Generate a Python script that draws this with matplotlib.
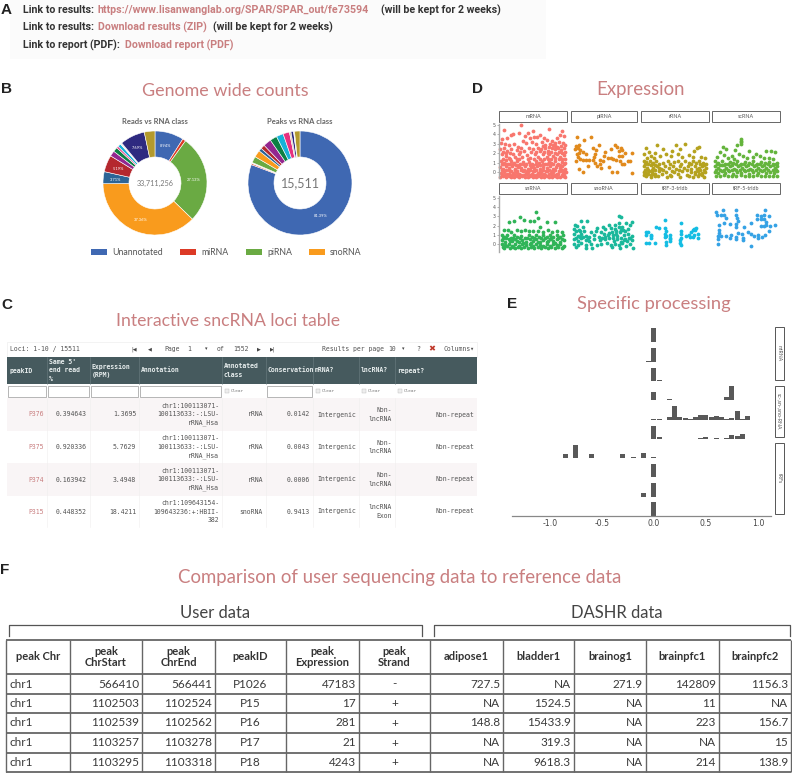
import matplotlib
matplotlib.use('Agg')
import matplotlib.pyplot as plt
from matplotlib.patches import Rectangle

W, H = 792, 773
PINK = '#c97f80'
TITLE_FONT = 'Lato'
MONO = 'DejaVu Sans Mono'

# Panel B donuts
READS_VALS = [8.94, 1.0, 27.13, 37.36, 3.71, 5.19, 1.7, 1.4, 0.6, 1.0, 0.5, 7.69, 3.3]
READS_COLS = ['#3f68b2', '#dc3a26', '#6aaa43', '#f99b1d', '#2c6496', '#b4282e', '#93278f', '#0c8043',
              '#e6317e', '#16b1d8', '#f4efe6', '#2e2a80', '#b39a2d']
READS_PCT = [('8.94%', 166, 146), ('27.13%', 194, 180), ('37.36%', 141, 220),
             ('3.71%', 116, 180), ('5.19%', 118, 169), ('7.69%', 137, 148)]
PEAKS_VALS = [81.39, 0.4, 0.3, 2.0, 2.2, 1.0, 1.3, 2.5, 2.2, 2.2, 2.0, 0.5, 0.8, 0.3, 1.7]
PEAKS_COLS = ['#3f68b2', '#dc3a26', '#f4efe6', '#6aaa43', '#f99b1d', '#2c6496', '#b4282e', '#93278f',
              '#0c8043', '#16b1d8', '#e6317e', '#d9c9a8', '#2e2a80', '#f4efe6', '#b39a2d']
LEGEND_NAMES = ['Unannotated', 'miRNA', 'piRNA', 'snoRNA']
LEGEND_COLS = ['#3f68b2', '#dc3a26', '#6aaa43', '#f99b1d']
LEGEND_X = [91, 180, 246, 309]

# Panel C table
C_COLS = [7, 47, 90, 139, 222, 266, 313, 359, 395, 477]
C_HEAD = ['peakID', "Same 5'\nend read\n%", 'Expression\n(RPM)', 'Annotation', 'Annotated\nclass',
          'Conservation', 'mRNA?', 'lncRNA?', 'repeat?']
C_ROWS = [
    ['P376', '0.394643', '1.3695', 'chr1:100113071-\n100113633:-:LSU-\nrRNA_Hsa', 'rRNA', '0.0142', 'Intergenic', 'Non-\nlncRNA', 'Non-repeat'],
    ['P375', '0.920336', '5.7629', 'chr1:100113071-\n100113633:-:LSU-\nrRNA_Hsa', 'rRNA', '0.0043', 'Intergenic', 'Non-\nlncRNA', 'Non-repeat'],
    ['P374', '0.163942', '3.4948', 'chr1:100113071-\n100113633:-:LSU-\nrRNA_Hsa', 'rRNA', '0.0006', 'Intergenic', 'Non-\nlncRNA', 'Non-repeat'],
    ['P315', '0.448352', '18.4211', 'chr1:109643154-\n109643236:+:HBII-\n382', 'snoRNA', '0.9413', 'Intergenic', 'lncRNA\nExon', 'Non-repeat'],
]
C_ROW_Y = [398, 431, 463, 496, 527]

# Panel D jitter points (x = percent of facet width, y = expression)
MRNA = [(8,4.5),(33,5.05),(74,4.6),(93,4.4),(50,4.35),(43,4.2),(38,3.8),(5,3.5),(12,3.6),(17,3.9),(20,4.0),(30,4.1),
        (46,3.6),(52,3.7),(56,3.7),(60,3.9),(70,3.4),(78,3.3),(85,3.6),(90,3.9),(95,3.8),(3,3.1),(9,3.0),(15,2.9),
        (22,3.0),(35,3.3),(40,3.1),(48,3.2),(55,3.0),(63,3.2),(67,2.9),(75,3.0),(82,3.1),(88,3.2),(94,3.1),(2,2.4),
        (7,2.5),(12,2.2),(18,2.4),(26,2.3),(32,2.5),(37,2.2),(44,2.6),(50,2.4),(58,2.6),(62,2.4),(68,2.5),(72,2.2),
        (78,2.6),(83,2.4),(87,2.6),(91,2.3),(96,2.5),(4,1.9),(10,1.7),(14,1.5),(20,1.9),(24,1.6),(29,1.9),(34,1.6),
        (41,1.8),(46,1.5),(53,1.9),(57,1.6),(64,1.9),(70,1.6),(74,1.9),(80,1.7),(85,1.9),(90,1.6),(95,1.8),(3,1.2),
        (8,1.0),(13,0.9),(17,1.2),(22,1.0),(27,1.2),(31,0.9),(36,1.1),(40,0.8),(44,1.1),(49,0.9),(54,1.2),(59,1.0),
        (63,1.2),(68,0.9),(73,1.1),(77,1.0),(82,1.2),(87,0.9),(92,1.1),(97,1.0),(2,0.5),(6,0.3),(11,0.6),(15,0.4),
        (19,0.6),(24,0.3),(28,0.5),(33,0.4),(38,0.6),(42,0.3),(47,0.5),(51,0.4),(56,0.6),(61,0.3),(65,0.5),(70,0.4),
        (75,0.6),(79,0.3),(84,0.5),(89,0.4),(93,0.6),(97,0.3),(3,-0.1),(7,0.0),(12,-0.2),(16,0.1),(21,-0.1),(25,0.0),
        (30,-0.2),(35,0.1),(39,-0.1),(43,0.0),(48,-0.2),(52,0.1),(57,-0.1),(62,0.0),(66,-0.2),(71,0.1),(76,-0.1),(80,0.0),
        (85,-0.2),(90,0.1),(94,-0.1),(98,0.0),(2,-0.5),(6,-0.45),(10,-0.55),(14,-0.45),(18,-0.5),(22,-0.55),(26,-0.45),(30,-0.5),
        (34,-0.45),(38,-0.55),(42,-0.5),(46,-0.45),(50,-0.55),(54,-0.5),(58,-0.45),(62,-0.55),(66,-0.5),(70,-0.45),(74,-0.55),(78,-0.5),
        (82,-0.45),(86,-0.55),(90,-0.5),(94,-0.45),(97,-0.5),(5,0.8),(25,0.7),(45,0.7),(65,0.8),(85,0.7),(10,2.0),(28,2.7),(66,3.6),(82,2.8),
        (4,-0.3),(9,-0.3),(14,-0.25),(19,-0.3),(24,-0.3),(28,-0.25),(33,-0.3),(37,-0.3),(41,-0.25),(45,-0.3),(50,-0.3),(55,-0.3),
        (60,-0.25),(64,-0.3),(68,-0.3),(73,-0.25),(78,-0.3),(83,-0.3),(87,-0.25),(92,-0.3),(96,-0.3),(5,0.2),(10,0.2),(14,0.25),
        (18,0.15),(23,0.2),(27,0.15),(32,0.2),(37,0.25),(41,0.15),(46,0.2),(50,0.15),(55,0.25),(60,0.15),(64,0.2),(69,0.15),
        (74,0.25),(78,0.15),(83,0.2),(88,0.15),(92,0.25),(96,0.15),(6,0.8),(11,0.8),(16,0.8),(20,0.8),(30,0.7),(35,0.8),(50,0.7),
        (55,0.8),(60,0.7),(70,0.8),(75,0.75),(80,0.8),(90,0.75),(95,0.8),(6,1.4),(11,1.3),(16,1.4),(26,1.4),(30,1.4),(43,1.4),(51,1.4),
        (60,1.4),(66,1.4),(72,1.4),(77,1.4),(83,1.5),(88,1.4),(93,1.4),(97,1.4),(88,2.1),(93,2.0),(97,2.1),(83,2.0),(77,2.1),(72,2.0),
        (66,2.1),(60,2.2),(55,2.1),(47,2.1),(31,2.1),(16,2.0),(6,2.1),(97,2.9),(91,2.8),(85,2.7),(79,2.9),(73,2.7),(65,2.8)]
PIRNA = [(9,3.7),(31,3.7),(20,3.4),(7,2.8),(12,2.9),(10,2.5),(6,2.4),(14,2.3),(12,2.0),(9,1.9),(18,2.1),(23,1.9),
         (34,2.6),(42,2.9),(38,2.3),(36,1.9),(35,1.6),(33,1.3),(10,1.6),(14,1.4),(18,1.3),(8,1.2),(22,1.3),(28,1.3),
         (37,1.0),(44,1.3),(48,1.2),(50,1.7),(56,1.5),(52,2.1),(61,2.4),(66,2.9),(70,2.7),(76,2.6),(72,2.2),(77,2.3),
         (64,1.4),(68,1.3),(72,1.7),(78,1.7),(74,1.2),(80,0.9),(90,1.2),(93,2.0),(82,2.0),(12,0.3),(18,0.0),(26,0.6),
         (40,0.6),(46,0.4),(58,0.5),(62,0.0),(70,0.0),(78,0.9),(93,-0.1),(86,1.2),(44,0.9),(60,1.5)]
RRNA = [(7,2.6),(24,2.9),(33,2.4),(46,2.2),(51,2.9),(64,3.0),(58,2.4),(82,2.5),(85,2.7),(78,2.2),(12,2.1),(20,2.0),
        (5,1.9),(14,1.7),(9,1.5),(19,1.5),(28,1.7),(37,1.9),(44,1.7),(55,1.9),(61,1.6),(70,1.8),(76,1.6),(88,1.6),(94,1.5),
        (4,1.2),(8,1.1),(13,1.2),(17,1.0),(22,1.2),(26,0.9),(33,1.0),(39,1.2),(43,0.9),(49,1.1),(54,1.2),(59,0.9),(65,1.2),
        (71,1.0),(76,1.2),(81,1.0),(86,1.2),(91,1.0),(95,0.9),(5,0.6),(9,0.4),(14,0.7),(18,0.4),(24,0.6),(30,0.3),(35,0.6),
        (41,0.4),(47,0.6),(52,0.3),(58,0.6),(63,0.4),(69,0.6),(74,0.3),(80,0.6),(85,0.4),(90,0.6),(95,0.4),(4,0.0),(8,-0.1),
        (12,0.1),(16,0.0),(21,-0.2),(26,0.1),(31,-0.2),(37,0.0),(43,-0.3),(49,0.0),(55,-0.2),(61,0.1),(67,-0.3),(73,0.0),(79,-0.2),
        (84,0.1),(89,-0.1),(94,0.0),(8,-0.4),(14,-0.5),(20,-0.45),(38,-0.5),(44,-0.45),(58,-0.5),(70,-0.45),(76,-0.5),(84,-0.45),(92,-0.5),
        (6,0.8),(11,0.9),(16,0.8),(20,0.7),(6,0.2),(11,0.2),(16,0.25),(21,0.2),(4,-0.3),(10,-0.25),(15,-0.3),(18,-0.2),(25,-0.4),
        (87,0.8),(92,0.7),(82,0.3),(87,0.2),(92,0.2),(90,-0.3),(85,-0.25),(80,0.0),(74,0.9),(68,0.2),(56,0.2),(45,0.1),(33,0.2),(27,0.4)]
SCRNA = [(43,3.5),(43,3.3),(43,3.15),(43,2.95),(37,2.9),(16,2.7),(21,2.4),(12,2.1),(34,2.3),(29,1.7),(39,1.9),(55,2.2),
         (64,1.9),(80,2.2),(87,2.2),(92,2.1),(18,1.8),(8,1.6),(24,1.5),(33,1.4),(46,1.7),(52,1.5),(60,1.6),(70,1.7),(76,1.5),
         (84,1.5),(90,1.4),(4,1.2),(9,1.0),(14,1.2),(19,0.9),(26,1.1),(31,1.0),(37,1.2),(43,0.9),(49,1.1),(55,1.0),(61,1.2),
         (66,0.9),(72,1.1),(78,1.0),(84,1.1),(90,0.9),(95,1.0),(4,0.6),(9,0.4),(15,0.7),(20,0.4),(26,0.6),(32,0.3),(38,0.6),
         (44,0.4),(50,0.6),(56,0.3),(62,0.6),(68,0.4),(74,0.6),(80,0.4),(86,0.6),(92,0.4),(96,0.6),(4,0.0),(9,-0.1),(14,0.1),
         (19,-0.1),(25,0.1),(31,-0.2),(37,0.0),(43,-0.1),(49,0.1),(55,-0.2),(61,0.0),(67,-0.1),(73,0.1),(79,-0.1),(85,0.0),(91,-0.1),
         (96,0.1),(6,-0.4),(12,-0.45),(18,-0.35),(24,-0.45),(30,-0.4),(36,-0.45),(42,-0.35),(48,-0.45),(54,-0.4),(60,-0.45),(66,-0.35),
         (72,-0.45),(78,-0.4),(84,-0.45),(90,-0.4),(95,-0.45),(7,0.8),(12,0.7),(17,0.7),(23,0.8),(29,0.7),(35,0.8),(41,0.7),(47,0.8),(53,0.7),
         (59,0.8),(65,0.7),(71,0.8),(77,0.7),(83,0.8),(89,0.7),(94,0.8),(6,0.2),(12,0.25),(17,0.2),(23,0.25),(29,0.2),(35,0.25),(41,0.2),
         (47,0.25),(53,0.2),(59,0.25),(65,0.2),(71,0.25),(77,0.2),(83,0.25),(89,0.2),(94,0.25)]
SNRNA = [(55,3.45),(14,2.4),(22,2.5),(31,2.9),(37,2.6),(46,2.5),(52,2.5),(58,2.8),(71,2.4),(82,2.4),(8,1.5),(13,1.5),(18,1.3),
         (26,1.5),(32,1.4),(38,1.5),(44,1.4),(50,1.4),(60,1.8),(58,1.4),(64,1.3),(72,1.5),(78,1.3),(86,1.4),(92,1.3),(4,1.0),(8,0.8),
         (12,1.0),(17,0.7),(22,1.0),(27,0.8),(33,0.9),(38,0.7),(44,1.0),(49,0.8),(54,1.0),(59,0.8),(65,1.0),(70,0.8),(75,1.0),(80,0.8),
         (85,1.0),(90,0.8),(94,1.0),(4,0.4),(9,0.2),(14,0.5),(19,0.3),(24,0.5),(29,0.2),(34,0.4),(39,0.2),(45,0.5),(50,0.3),(55,0.5),
         (60,0.2),(65,0.4),(70,0.2),(75,0.5),(80,0.3),(85,0.5),(90,0.2),(95,0.4),(4,0.0),(9,-0.1),(14,0.0),(19,-0.2),(24,0.0),(29,-0.2),
         (34,0.0),(39,-0.1),(45,0.0),(50,-0.2),(55,0.0),(60,-0.1),(65,-0.2),(70,0.0),(75,-0.2),(80,0.0),(85,-0.1),(90,0.0),(95,-0.2),
         (8,-0.4),(16,-0.45),(24,-0.4),(32,-0.45),(42,-0.4),(52,-0.45),(62,-0.4),(72,-0.45),(82,-0.4),(92,-0.45),(6,0.6),(11,0.6),(16,0.3),
         (21,0.7),(26,0.3),(31,0.6),(36,0.15),(41,0.6),(47,0.15),(52,0.6),(57,0.2),(62,0.6),(67,0.65),(72,0.3),(77,0.7),(82,0.15),(87,0.7),
         (92,0.55),(6,-0.3),(12,-0.25),(21,-0.3),(28,-0.35),(37,-0.3),(47,-0.35),(57,-0.3),(67,-0.35),(77,-0.35),(87,-0.3),(94,-0.35)]
SNORNA = [(15,2.5),(24,2.5),(72,3.0),(76,2.9),(83,2.3),(93,2.4),(6,2.1),(9,2.0),(18,1.8),(40,1.7),(48,1.8),(58,2.1),(66,2.1),
          (72,2.3),(78,1.9),(89,2.1),(5,1.6),(12,1.5),(20,1.4),(30,1.3),(38,1.4),(45,1.3),(52,1.6),(60,1.7),(66,1.6),(72,1.8),(79,1.5),
          (86,1.6),(5,1.1),(10,0.9),(15,1.1),(22,0.9),(28,0.8),(35,1.0),(42,0.8),(50,1.1),(56,1.0),(62,1.3),(68,1.1),(74,1.3),(80,1.0),
          (86,1.1),(92,0.9),(5,0.5),(10,0.3),(15,0.6),(22,0.4),(28,0.3),(35,0.5),(44,0.4),(52,0.5),(58,0.6),(64,0.7),(70,0.5),(76,0.7),
          (82,0.5),(88,0.6),(92,0.4),(5,0.0),(10,-0.1),(15,0.1),(22,-0.1),(32,-0.4),(40,-0.1),(46,0.0),(54,0.1),(60,-0.1),(66,0.0),
          (72,-0.1),(78,0.1),(84,-0.2),(90,0.0),(94,-0.4),(8,-0.3),(22,-0.4),(31,0.0),(62,-0.35),(74,-0.4),(8,0.7),(13,0.8),(18,0.8),
          (25,0.6),(8,1.4),(14,1.4),(65,0.3),(70,0.9),(75,0.2),(80,0.4),(85,0.3),(90,0.7),(68,1.4),(76,1.5),(82,1.4),(58,1.2),(64,1.0),(52,0.8),(47,0.7)]
TRF3 = [(36,2.6),(59,2.3),(22,1.8),(26,1.7),(36,1.7),(37,1.4),(36,1.1),(35,0.8),(7,1.3),(10,1.3),(7,1.0),(14,1.0),(15,0.9),(15,0.7),
        (37,0.9),(43,1.0),(42,0.7),(43,0.5),(42,0.3),(8,0.1),(12,0.1),(20,0.1),(37,0.2),(37,-0.1),(59,1.4),(59,1.1),(59,0.7),(58,0.4),
        (58,0.1),(59,-0.1),(66,0.9),(71,1.0),(74,1.3),(76,1.5),(78,1.6),(80,1.5),(81,1.7),(72,0.8),(77,0.8),(78,1.0),(84,1.1),(84,0.7)]
TRF5 = [(6,3.5),(16,3.7),(36,3.7),(78,3.7),(8,3.2),(13,3.1),(18,3.1),(20,2.8),(36,3.1),(37,2.8),(66,3.1),(72,3.0),(76,3.1),(84,3.0),
        (66,2.7),(72,2.7),(76,2.7),(80,2.4),(10,2.1),(17,2.3),(27,2.2),(36,2.2),(38,2.5),(36,1.8),(47,1.9),(58,2.3),(72,2.0),(76,2.0),
        (80,2.1),(86,2.0),(92,2.1),(10,1.5),(10,1.2),(9,0.9),(13,0.9),(20,0.9),(28,1.0),(27,0.7),(35,0.8),(38,1.2),(36,0.5),(44,1.1),
        (45,0.7),(45,0.4),(53,1.3),(58,1.1),(62,0.9),(68,1.0),(68,0.7),(74,0.8),(78,1.0),(84,1.4),(9,0.5),(9,0.0),(58,-0.2)]
D_FACETS = [('mRNA', MRNA, '#f8766d'), ('piRNA', PIRNA, '#e18a1c'), ('rRNA', RRNA, '#b5a21f'), ('scRNA', SCRNA, '#64b43c'),
            ('snRNA', SNRNA, '#2fb457'), ('snoRNA', SNORNA, '#1ab89b'), ('tRF-3-trldb', TRF3, '#14bde3'), ('tRF-5-trldb', TRF5, '#35a2e5')]
D_X = [(499, 567), (571, 637), (641, 709), (712, 780)]
D_Y_TICKS = [0, 1, 2, 3, 4, 5]

# Panel E histograms, one dict per facet row (bin centre: relative height)
E_ROWS = [
    {0: 1.0, .05: .03},
    {0: .95, -.05: .02},
    {0: .95, .05: .03},
    {0: .6, .15: .1, .2: .05, .25: .02, .3: .02, .4: .03, .6: .02, .65: .05, .7: .25, .75: 1.0, .8: .03},
    {0: .02, .05: .03, .15: .2, .2: 1.0, .25: .15, .3: .1, .35: .07, .4: .15, .45: .3, .5: .35, .55: .18, .6: .25,
     .65: .15, .7: .03, .75: .1, .8: .6, .85: .05, .9: .25},
    {0: .95, .05: .1, .2: .02, .25: .02, .45: .03, .5: .15, .55: .02, .6: .03, .65: .02, .7: .05, .75: .25, .8: .22, .85: .35},
    {-.85: .3, -.8: .02, -.75: .95, -.6: .28, -.55: .02, -.5: .02, -.45: .02, -.3: .28, -.2: .05, -.1: .35, -.05: .03, 0: .05, .05: .02},
    {0: .95},
    {-.1: .3, 0: .98},
    {0: .98},
]
E_TICKS = [-1.0, -0.5, 0.0, 0.5, 1.0]
E_STRIPS = [('miRNA', 327, 380), ('sc-,sn-,sno-RNA', 386, 437), ('tRFs', 443, 514)]

# Panel F table
F_COLS = [6, 70, 142, 215, 286, 359, 430, 503, 574, 646, 719, 791]
F_HEAD = ['peak Chr', 'peak\nChrStart', 'peak\nChrEnd', 'peakID', 'peak\nExpression', 'peak\nStrand',
          'adipose1', 'bladder1', 'brainog1', 'brainpfc1', 'brainpfc2']
F_ROWS = [
    ['chr1', '566410', '566441', 'P1026', '47183', '-', '727.5', 'NA', '271.9', '142809', '1156.3'],
    ['chr1', '1102503', '1102524', 'P15', '17', '+', 'NA', '1524.5', 'NA', '11', 'NA'],
    ['chr1', '1102539', '1102562', 'P16', '281', '+', '148.8', '15433.9', 'NA', '223', '156.7'],
    ['chr1', '1103257', '1103278', 'P17', '21', '+', 'NA', '319.3', 'NA', 'NA', '15'],
    ['chr1', '1103295', '1103318', 'P18', '4243', '+', 'NA', '9618.3', 'NA', '214', '138.9'],
]
F_ROW_Y = [640, 674, 694, 713, 733, 753, 772]
F_ALIGN = ['left', 'right', 'right', 'center', 'right', 'center', 'right', 'right', 'right', 'right', 'right']


def px_axes(fig, x0, y0, x1, y1):
    # axes placed by pixel box, y measured from the top
    return fig.add_axes([x0 / W, 1 - y1 / H, (x1 - x0) / W, (y1 - y0) / H])


def draw_donut(fig, cx, cy, r, vals, cols, inner):
    ax = px_axes(fig, cx - r, cy - r, cx + r, cy + r)
    ax.pie(vals, colors=cols, startangle=90, counterclock=False, radius=1,
           wedgeprops={'width': 1 - inner, 'edgecolor': 'white', 'linewidth': 0.4})
    ax.set_xlim(-1, 1)
    ax.set_ylim(-1, 1)
    ax.set_zorder(1)


fig = plt.figure(figsize=(W / 100, H / 100), dpi=100, facecolor='white')
bg = fig.add_axes([0, 0, 1, 1])
bg.set_xlim(0, W)
bg.set_ylim(H, 0)
bg.axis('off')

# panel letters
for letter, x, y in [('A', 1, 10), ('B', 1, 89), ('C', 1, 305), ('D', 472, 89), ('E', 507, 304), ('F', 0, 570)]:
    bg.text(x, y, letter, fontsize=11, fontweight='bold', family='Liberation Sans', color='#222222', va='center')

# section titles
for txt, x, y, size in [('Genome wide counts', 225, 91, 12.9), ('Expression', 640, 89, 13.4),
                        ('Interactive sncRNA loci table', 228, 321, 12.7), ('Specific processing', 654, 304, 13.2),
                        ('Comparison of user sequencing data to reference data', 400, 578, 13.4)]:
    bg.text(x, y, txt, fontsize=size, family=TITLE_FONT, color=PINK, ha='center', va='center')

# A: links
bg.add_patch(Rectangle((10, 0), 536, 59, fc='#fbfbfb', ec='none'))
link_parts = [(23, 10, 'Link to results:', '#333333'), (98, 10, 'https://www.lisanwanglab.org/SPAR/SPAR_out/fe73594', PINK),
              (381, 10, '(will be kept for 2 weeks)', '#333333'),
              (23, 27, 'Link to results:', '#333333'), (98, 27, 'Download results (ZIP)', PINK),
              (213, 27, '(will be kept for 2 weeks)', '#333333'),
              (23, 45, 'Link to report (PDF):', '#333333'), (125, 45, 'Download report (PDF)', PINK)]
for x, y, txt, col in link_parts:
    bg.text(x, y, txt, fontsize=7.7, family='Roboto', fontweight='bold', color=col, va='center')

# B: donuts
draw_donut(fig, 155, 183, 52, READS_VALS, READS_COLS, 0.5)
draw_donut(fig, 300, 183, 52, PEAKS_VALS, PEAKS_COLS, 0.5)
top = fig.add_axes([0, 0, 1, 1], facecolor='none')
top.set_xlim(0, W)
top.set_ylim(H, 0)
top.axis('off')
top.set_zorder(2)
for txt, x, y in READS_PCT:
    top.text(x, y, txt, fontsize=2.9, color='white', ha='center', va='center', family=TITLE_FONT)
top.text(321, 216, '81.39%', fontsize=2.9, color='white', ha='center', va='center', family=TITLE_FONT)
top.text(155, 183, '33,711,256', fontsize=5.2, color='#777777', ha='center', va='center', family=TITLE_FONT)
top.text(300, 183, '15,511', fontsize=9, color='#777777', ha='center', va='center', family=TITLE_FONT)
bg.text(155, 122, 'Reads vs RNA class', fontsize=5.5, fontweight='bold', color='#666666', ha='center', va='center', family=TITLE_FONT)
bg.text(300, 122, 'Peaks vs RNA class', fontsize=5.5, fontweight='bold', color='#666666', ha='center', va='center', family=TITLE_FONT)
for name, col, x in zip(LEGEND_NAMES, LEGEND_COLS, LEGEND_X):
    bg.add_patch(Rectangle((x, 249), 16, 6, fc=col, ec='none'))
    bg.text(x + 21, 252.5, name, fontsize=6.3, color='#555555', va='center', family=TITLE_FONT)

# C: toolbar
bg.add_patch(Rectangle((7, 342), 470, 15, fc='white', ec='#eeeeee', lw=0.5))
for x, txt in [(10, 'Loci: 1-10 / 15511'), (164, 'Page'), (187, '1'), (217, 'of'), (233, '1552'),
               (322, 'Results per page'), (388, '10'), (416, '?'), (443, 'Columns▾')]:
    bg.text(x, 349, txt, fontsize=4.7, family=MONO, color='#555555', va='center')
for x, txt in [(134, '|◀'), (150, '◀'), (206, '▾'), (259, '▶'), (273, '▶|'), (403, '▾')]:
    bg.text(x, 349, txt, fontsize=3.6, family='DejaVu Sans', color='#444444', va='center', ha='center')
bg.text(432, 349, '✖', fontsize=6, family='DejaVu Sans', color='#c0392b', va='center', ha='center')

# C: header and filter rows
bg.add_patch(Rectangle((7, 357), 470, 27, fc='#465a5e', ec='none'))
for i, head in enumerate(C_HEAD):
    bg.text(C_COLS[i] + 2, 370.5, head, fontsize=4.7, family=MONO, fontweight='bold', color='#e8eeee',
            va='center', linespacing=1.45, clip_on=True)
    if i:
        bg.plot([C_COLS[i]] * 2, [357, 384], color='#6d7f83', lw=0.4)
    if i in (0, 1, 2, 3, 5):
        bg.add_patch(Rectangle((C_COLS[i] + 1, 386), C_COLS[i + 1] - C_COLS[i] - 2, 10.5, fc='white', ec='#999999', lw=0.5))
    else:
        bg.add_patch(Rectangle((C_COLS[i] + 3, 389), 4, 4, fc='#eeeeee', ec='#bbbbbb', lw=0.3))
        bg.text(C_COLS[i] + 9, 391, 'Clear', fontsize=3.2, family=MONO, color='#777777', va='center')

# C: body rows
C_TEXT_COL = '#555555'
for r, row in enumerate(C_ROWS):
    y0, y1 = C_ROW_Y[r], C_ROW_Y[r + 1]
    bg.add_patch(Rectangle((7, y0), 470, y1 - y0, fc='#f9f5f6' if r % 2 == 0 else 'white', ec='none', zorder=0))
    for c, val in enumerate(row):
        is_left = c == 6
        xpos = C_COLS[c] + 4 if is_left else C_COLS[c + 1] - 3
        bg.text(xpos, (y0 + y1) / 2, val, fontsize=4.7, family=MONO, color=PINK if c == 0 else C_TEXT_COL,
                ha='left' if is_left else 'right', va='center', multialignment='left' if is_left else 'right', linespacing=1.45)
for x in C_COLS[1:-1]:
    bg.plot([x, x], [398, 527], color='#f0eeee', lw=0.4, zorder=1)

# D: facets
for i, (name, pts, col) in enumerate(D_FACETS):
    x0, x1 = D_X[i % 4]
    y_strip = (111, 122) if i < 4 else (183, 194)
    y0, y_zero, y_five, y1 = (124, 172, 125, 178) if i < 4 else (196, 244, 198, 252)
    bg.add_patch(Rectangle((x0, y_strip[0]), x1 - x0, y_strip[1] - y_strip[0], fc='white', ec='#666666', lw=0.7))
    bg.text((x0 + x1) / 2, sum(y_strip) / 2, name, fontsize=3.9, color='#555555', ha='center', va='center', family=TITLE_FONT)
    ax = px_axes(fig, x0, y0, x1, y1)
    unit = (y_zero - y_five) / 5
    ax.set_xlim(0, 100)
    ax.set_ylim((y_zero - y1) / unit, (y_zero - y0) / unit)
    ax.patch.set_alpha(0)
    ax.scatter([p[0] for p in pts], [p[1] for p in pts], s=7.5, color=col, linewidths=0, clip_on=False)
    for s in ax.spines.values():
        s.set_visible(False)
    ax.set_xticks([])
    if i % 4 == 0:
        ax.spines['left'].set_visible(True)
        ax.spines['left'].set_color('#aaaaaa')
        ax.spines['left'].set_linewidth(1.0)
        ax.set_yticks(D_Y_TICKS)
        ax.tick_params(axis='y', labelsize=3.4, length=1.2, width=0.4, pad=1, labelcolor='#555555', color='#777777')
    else:
        ax.set_yticks([])

# E: stacked histograms on one shared x axis
ax_e = px_axes(fig, 512, 325, 771, 516)
ax_e.set_xlim(-1.365, 1.125)
ax_e.set_ylim(0, 191 / 19.3)
ax_e.patch.set_alpha(0)
n_rows = len(E_ROWS)
for r, row in enumerate(E_ROWS):
    base = n_rows - 1 - r
    ax_e.bar(list(row.keys()), [v * 0.72 for v in row.values()], width=0.048, bottom=base, color='#595959', linewidth=0)
for side in ('top', 'right', 'left'):
    ax_e.spines[side].set_visible(False)
ax_e.spines['bottom'].set_color('#888888')
ax_e.spines['bottom'].set_linewidth(0.9)
ax_e.set_yticks([])
ax_e.set_xticks(E_TICKS)
ax_e.set_xticklabels(['-1.0', '-0.5', '0.0', '0.5', '1.0'])
ax_e.tick_params(axis='x', labelsize=5.6, length=0, pad=2.5, labelcolor='#444444')
for name, y0, y1 in E_STRIPS:
    bg.add_patch(Rectangle((775, y0), 9, y1 - y0, fc='white', ec='#555555', lw=0.7))
    bg.text(779.5, (y0 + y1) / 2, name, fontsize=3.7, rotation=-90, color='#555555', ha='center', va='center', family=TITLE_FONT)

# F: brackets
bg.text(215, 613, 'User data', fontsize=12, family=TITLE_FONT, color='#444444', ha='center', va='center')
bg.text(617, 613, 'DASHR data', fontsize=12, family=TITLE_FONT, color='#444444', ha='center', va='center')
for x0, x1 in [(9, 422), (434, 790)]:
    bg.plot([x0, x0, x1, x1], [636, 625, 625, 636], color='#555555', lw=0.9)

# F: table
for y in F_ROW_Y:
    bg.plot([F_COLS[0], F_COLS[-1]], [y, y], color='#666666', lw=1.3, solid_capstyle='butt')
for x in F_COLS:
    bg.plot([x, x], [F_ROW_Y[0], F_ROW_Y[-1]], color='#666666', lw=1.0, solid_capstyle='butt')
for c, head in enumerate(F_HEAD):
    bg.text((F_COLS[c] + F_COLS[c + 1]) / 2, 657, head, fontsize=8, fontweight='bold', family=TITLE_FONT,
            color='#333333', ha='center', va='center', linespacing=1.1)
for r, row in enumerate(F_ROWS):
    yc = (F_ROW_Y[r + 1] + F_ROW_Y[r + 2]) / 2
    for c, val in enumerate(row):
        al = F_ALIGN[c]
        if al == 'left':
            xpos = F_COLS[c] + 3
        elif al == 'right':
            xpos = F_COLS[c + 1] - 3
        else:
            xpos = (F_COLS[c] + F_COLS[c + 1]) / 2
        bg.text(xpos, yc, val, fontsize=8.5, family=TITLE_FONT, color='#3a3a3a', ha=al, va='center')

fig.savefig('out.png', dpi=100)
